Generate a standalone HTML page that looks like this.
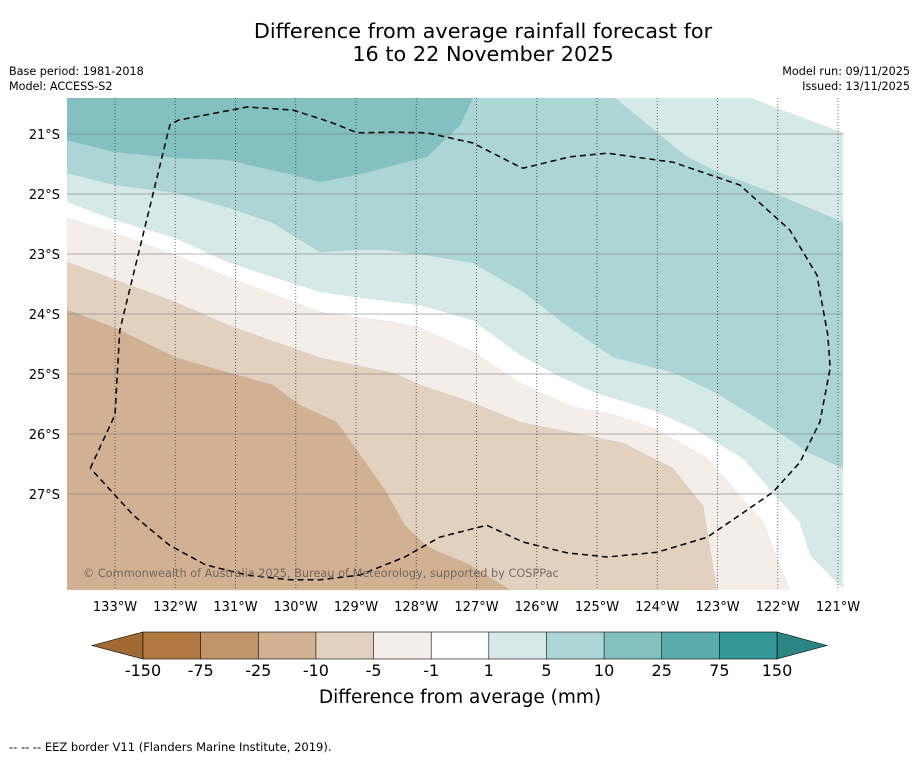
<!DOCTYPE html>
<html><head><meta charset="utf-8">
<style>
body{margin:0;background:#fff;width:919px;height:758px;overflow:hidden;font-family:"Liberation Sans","DejaVu Sans",sans-serif;}
svg text{font-family:"DejaVu Sans","Liberation Sans",sans-serif;}
</style></head>
<body>
<svg id="chart" width="919" height="758" xmlns="http://www.w3.org/2000/svg">
<text x="483" y="38" font-size="20.8" text-anchor="middle" fill="#000">Difference from average rainfall forecast for</text>
<text x="483" y="61" font-size="20.8" text-anchor="middle" fill="#000">16 to 22 November 2025</text>
<text x="9" y="75" font-size="11.2">Base period: 1981-2018</text>
<text x="9" y="90" font-size="11.2">Model: ACCESS-S2</text>
<text x="910" y="75" font-size="11.2" text-anchor="end">Model run: 09/11/2025</text>
<text x="910" y="90" font-size="11.2" text-anchor="end">Issued: 13/11/2025</text>
<defs><clipPath id="plotclip"><rect x="67" y="98" width="776" height="492"/></clipPath></defs>
<g id="map" clip-path="url(#plotclip)"></g>
<g id="grid"></g>
<g id="eez"></g>
<text x="83" y="577" font-size="11.3" fill="#555" fill-opacity="0.8">© Commonwealth of Australia 2025, Bureau of Meteorology, supported by COSPPac</text>
<g id="axes"></g>
<g id="colorbar"></g>
<text x="460" y="703" font-size="18.5" text-anchor="middle">Difference from average (mm)</text>
<text x="9" y="751" font-size="11.5">--  --  -- EEZ border V11 (Flanders Marine Institute, 2019).</text>
</svg>
<script>
// Map extent data (degrees West, degrees South)
const lonTicks=[133,132,131,130,129,128,127,126,125,124,123,122,121];
const latTicks=[21,22,23,24,25,26,27];
// Contour boundaries as [lonW, latS]
const edgeM25M10=[[133.8,23.93],[133,24.23],[132,24.72],[131.14,24.97],[130.38,25.18],[129.93,25.52],[129.32,25.8],[128.93,26.35],[128.52,26.93],[128.19,27.52],[127.85,27.85],[127.61,27.97],[127.11,28.18],[126.44,28.6]];
const edgeM10M5=[[133.8,23.13],[133,23.43],[132,23.8],[131.14,24.18],[129.6,24.73],[128.39,24.98],[127.94,25.18],[127.06,25.48],[126.28,25.8],[125.4,25.98],[124.57,26.15],[123.74,26.57],[123.24,27.2],[123.01,28.6]];
const edgeM5M1=[[133.8,22.4],[133,22.65],[132,23.02],[131.14,23.38],[129.6,23.97],[128.39,24.13],[127.94,24.23],[127.06,24.63],[126.23,25.18],[125.4,25.55],[124.73,25.68],[124.07,25.9],[123.17,26.4],[122.74,26.9],[122.24,27.47],[122.08,27.9],[121.8,28.6]];
const edgeM1P1=[[133.8,22.13],[133,22.43],[132,22.73],[131.14,23.13],[130.38,23.38],[129.6,23.63],[128.98,23.72],[127.94,23.85],[127.06,24.1],[126.28,24.68],[125.66,25.02],[125,25.32],[124.07,25.6],[123.41,25.9],[122.58,26.4],[122.08,26.97],[121.63,27.47],[121.46,28.02],[120.92,28.57]];
const edgeP5P10=[[133.8,21.65],[133,21.85],[132,21.98],[131.14,22.22],[130.38,22.48],[129.6,22.97],[128.98,22.93],[128.55,22.93],[127.82,23.02],[127.06,23.15],[126.23,23.63],[125.45,24.23],[124.73,24.72],[123.74,24.97],[123.01,25.32],[122.08,25.9],[121.51,26.3],[120.92,26.57]];
const edgeTopP10P5=[[124.7,20.4],[124.0,20.98],[123.51,21.38],[123.01,21.63],[122.08,21.98],[120.92,22.47]];
const edgeTopP5P1=[[122.43,20.4],[122.08,20.55],[120.92,20.98]];
const edgeP10P25=[[133.8,21.1],[133,21.3],[132,21.4],[131.14,21.43],[130.05,21.68],[129.6,21.8],[128.98,21.68],[127.82,21.38],[127.27,20.85],[127.06,20.4]];
const eezLine=[[133.41,26.57],[133,25.68],[132.92,24.27],[132.09,20.85],[131.95,20.77],[130.81,20.55],[130.05,20.6],[129.43,20.8],[128.98,20.98],[128.39,20.97],[127.82,20.98],[127.06,21.15],[126.28,21.55],[126.23,21.57],[125.45,21.38],[124.83,21.32],[123.74,21.47],[122.63,21.85],[121.8,22.6],[121.35,23.35],[121.17,24.35],[121.13,24.9],[121.3,25.8],[121.63,26.47],[122.08,26.97],[122.63,27.35],[123.17,27.72],[124.0,27.97],[124.83,28.05],[125.5,27.98],[126.23,27.8],[126.83,27.52],[127.61,27.72],[128.19,28.05],[128.93,28.35],[129.6,28.43],[130.1,28.43],[130.81,28.35],[131.5,28.18],[132.1,27.85],[132.7,27.35],[133.41,26.57]];
// Colour scale
const cbLabels=["-150","-75","-25","-10","-5","-1","1","5","10","25","75","150"];
const cbColors=["#b07a40","#c09469","#d2b192","#e3d1c0","#f5ede8","#ffffff","#d5e9e8","#abd6d5","#82c1c0","#5aacab","#319896"];
const cbLow="#a06a32",cbHigh="#2a8583";

const NS="http://www.w3.org/2000/svg";
const X=lon=>115+(133-lon)*60.25;
const Y=lat=>134+(lat-21)*60;
function mk(tag,attrs,parent){const e=document.createElementNS(NS,tag);for(const k in attrs)e.setAttribute(k,attrs[k]);parent.appendChild(e);return e;}
const pts=a=>a.map(p=>X(p[0]).toFixed(1)+","+Y(p[1]).toFixed(1)).join(" ");
const map=document.getElementById('map');
const bg=mk('rect',{x:60,y:90,width:800,height:510,fill:cbColors[2]},map);


const TL="60,90",TR="860,90",BR="860,600";
function upper(edge,color,name){
  const p=mk('polygon',{points:pts(edge)+" "+BR+" "+TR+" "+TL,fill:color,stroke:"#9bb",'stroke-width':0.3,'stroke-opacity':0.5},map);
  
  
}
upper(edgeM25M10,cbColors[3],'region-minus10-minus5');
upper(edgeM10M5,cbColors[4],'region-minus5-minus1');
upper(edgeM5M1,cbColors[5],'region-near-average');
upper(edgeM1P1,cbColors[6],'region-plus1-plus5');
upper(edgeP5P10,cbColors[7],'region-plus5-plus10');
function corner(edge,color,name){
  const p=mk('polygon',{points:pts(edge)+" "+TR,fill:color,stroke:"#9bb",'stroke-width':0.3,'stroke-opacity':0.5},map);
  
  
}
corner(edgeTopP10P5,cbColors[6],'region-top-plus1-plus5');
corner(edgeTopP5P1,cbColors[5],'region-top-near-average');
const dk=mk('polygon',{points:pts(edgeP10P25)+" "+TL,fill:cbColors[8],stroke:"#9bb",'stroke-width':0.3},map);



const grid=document.getElementById('grid');
lonTicks.forEach(l=>{
  const g=mk('line',{x1:X(l),x2:X(l),y1:98,y2:590,stroke:"#333",'stroke-width':0.9,'stroke-dasharray':"1,2",'stroke-opacity':0.8},grid);
  
  
});
latTicks.forEach(l=>{
  const g=mk('line',{x1:67,x2:843,y1:Y(l),y2:Y(l),stroke:"#777",'stroke-width':1,'stroke-opacity':0.55},grid);
  
  
});
const eez=mk('polyline',{points:pts(eezLine),fill:"none",stroke:"#000",'stroke-width':1.5,'stroke-dasharray':"6,4"},document.getElementById('eez'));



const axes=document.getElementById('axes');
lonTicks.forEach(l=>{
  const t=mk('text',{x:X(l),y:611,'font-size':13,'text-anchor':'middle'},axes);
  t.textContent=l+"°W";
  
  
});
latTicks.forEach(l=>{
  const t=mk('text',{x:60,y:Y(l)+5,'font-size':13,'text-anchor':'end'},axes);
  t.textContent=l+"°S";
  
  
});

const cb=document.getElementById('colorbar');
const cx0=143,cw=(777-143)/cbColors.length,cy=632,ch=27;
const lt=mk('polygon',{points:`92,${cy+ch/2} ${cx0},${cy} ${cx0},${cy+ch}`,fill:cbLow,stroke:"#000",'stroke-width':0.6},cb);


const rt=mk('polygon',{points:`827,${cy+ch/2} 777,${cy} 777,${cy+ch}`,fill:cbHigh,stroke:"#000",'stroke-width':0.6},cb);


cbColors.forEach((c,i)=>{
  const r=mk('rect',{x:cx0+i*cw,y:cy,width:cw,height:ch,fill:c},cb);
  
  
  if(i>0){const d=mk('line',{x1:cx0+i*cw,x2:cx0+i*cw,y1:cy,y2:cy+ch,stroke:"#000",'stroke-width':0.6},cb);
  
  }
});
const fr=mk('rect',{x:cx0,y:cy,width:777-cx0,height:ch,fill:"none",stroke:"#000",'stroke-width':0.6},cb);


cbLabels.forEach((s,i)=>{
  const t=mk('text',{x:cx0+i*cw,y:676,'font-size':16,'text-anchor':'middle'},cb);
  t.textContent=s;
  
  
});
</script>
</body></html>
